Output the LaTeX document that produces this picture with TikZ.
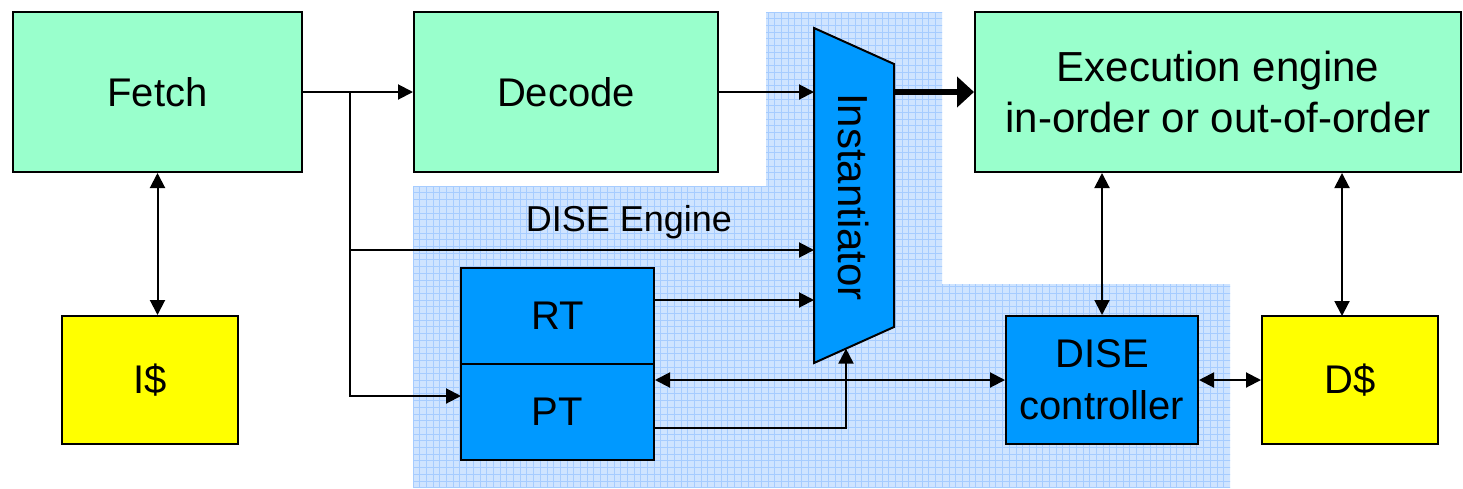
\documentclass[tikz,border=0pt]{standalone}
\usepackage{fontspec}
\setmainfont{Liberation Sans}
\usetikzlibrary{arrows.meta}
\definecolor{mint}{HTML}{99FFCC}
\definecolor{dblue}{HTML}{0099FF}
\definecolor{ylw}{HTML}{FFFF00}
\definecolor{bgblue}{HTML}{CFE4FF}
\definecolor{gridblue}{HTML}{A6CCFF}
\begin{document}
\begin{tikzpicture}[x=1pt,y=-1pt,
  box/.style={draw, line width=2pt, inner sep=0pt, align=center,
    font=\fontsize{40}{52}\selectfont},
  arr/.style={line width=2pt, -{Triangle[length=15pt,width=15pt]}},
  darr/.style={line width=2pt, {Triangle[length=15pt,width=15pt]}-{Triangle[length=15pt,width=15pt]}},
  bigarr/.style={line width=6pt, -{Triangle[length=17pt,width=30pt]}}]
\useasboundingbox (0,0) rectangle (1463,488);
\fill[white] (0,0) rectangle (1463,488);
% DISE engine background region
\begin{scope}
  \path[clip] (413,186) -- (766,186) -- (766,12) -- (942,12) -- (942,284)
     -- (1230,284) -- (1230,488) -- (413,488) -- cycle;
  \fill[bgblue] (400,0) rectangle (1240,488);
  \foreach \i in {0,...,130} {
    \draw[gridblue, line width=0.9pt] (413+6.7*\i,0) -- (413+6.7*\i,488);
  }
  \foreach \j in {0,...,75} {
    \draw[gridblue, line width=0.9pt] (400,12+6.7*\j) -- (1240,12+6.7*\j);
  }
\end{scope}
% boxes
\node[box, fill=mint, minimum width=289pt, minimum height=160pt] (fetch) at (157.5,92) {Fetch};
\node[box, fill=mint, minimum width=304pt, minimum height=160pt] (decode) at (566,92) {Decode};
\node[box, fill=mint, minimum width=486pt, minimum height=160pt,
  font=\fontsize{42}{51}\selectfont] (exec) at (1218,92) {Execution engine\\in-order or out-of-order};
\node[box, fill=ylw, minimum width=176pt, minimum height=128pt] (icache) at (150,380) {I\$};
\node[box, fill=ylw, minimum width=176pt, minimum height=128pt] (dcache) at (1350,380) {D\$};
\node[box, fill=dblue, minimum width=193pt, minimum height=96pt] (rt) at (557.5,316) {RT};
\node[box, fill=dblue, minimum width=193pt, minimum height=96pt] (pt) at (557.5,412) {PT};
\node[box, fill=dblue, minimum width=192pt, minimum height=128pt] (dctrl) at (1102,380) {DISE\\controller};
\node[font=\fontsize{36}{44}\selectfont] (engine) at (629,222) {DISE Engine};
% instantiator
\coordinate (iTL) at (814,28);
\coordinate (iTR) at (894,64);
\coordinate (iBR) at (894,327);
\coordinate (iBL) at (814,363);
\draw[line width=2pt, fill=dblue] (iTL) -- (iTR) -- (iBR) -- (iBL) -- cycle;
\node[rotate=-90, font=\fontsize{42}{50}\selectfont] (inst) at (853,197) {Instantiator};
\coordinate (in1) at (814,92);
\coordinate (in2) at (814,250);
\coordinate (in3) at (814,300);
\coordinate (in4) at (846,348.6);
\coordinate (out) at (894,92);
\coordinate (br) at (350,92);
\coordinate (ptin) at (461,396);
\coordinate (ptout) at (654,428);
\coordinate (dx) at (1342,316);
% connectors
\draw[arr] (fetch.east) -- (decode.west);
\draw[arr] (br) |- (ptin);
\draw[arr] (br |- in2) -- (in2);
\draw[arr] (decode.east) -- (in1);
\draw[bigarr] (out) -- (exec.west);
\draw[arr] (in3 -| rt.east) -- (in3);
\draw[arr] (ptout) -| (in4);
\draw[darr] (pt.east |- dctrl.west) -- (dctrl.west);
\draw[darr] (dctrl.east) -- (dcache.west);
\draw[darr] (fetch.south) -- (fetch.south |- icache.north);
\draw[darr] (exec.south -| dctrl.north) -- (dctrl.north);
\draw[darr] (dx |- exec.south) -- (dx);
\end{tikzpicture}
\end{document}
